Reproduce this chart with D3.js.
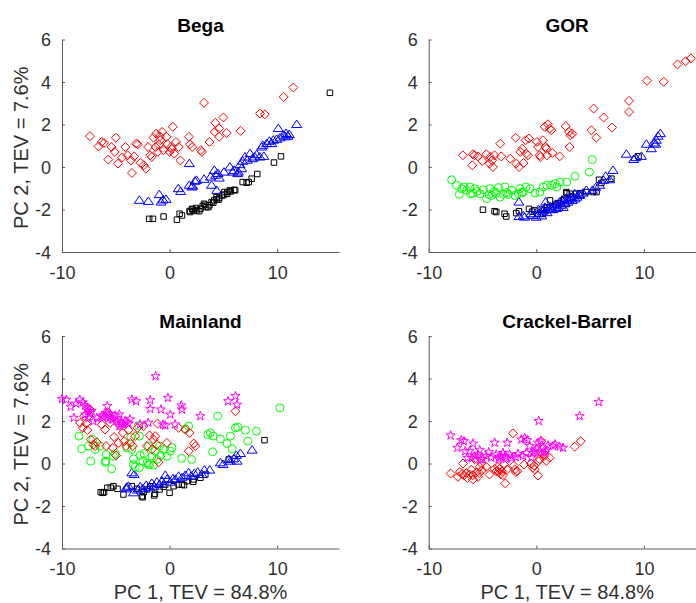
<!DOCTYPE html>
<html>
<head>
<meta charset="utf-8">
<script src="https://cdn.jsdelivr.net/npm/d3@7"></script>
<style>
  body { margin: 0; background: #fff; }
  svg { display: block; }
</style>
</head>
<body>
<svg id="chart" width="696" height="603"></svg>
<script>
const titles = ['Bega', 'GOR', 'Mainland', 'Crackel-Barrel']
const xTicks = [-10, 0, 10]
const yTicks = [-4, -2, 0, 2, 4, 6]
const xLabel = 'PC 1, TEV = 84.8%'
const yLabel = 'PC 2, TEV = 7.6%'

// Bega
const begaDiamond = [[-7.4,1.45],[-6.6,0.97],[-6.3,1.18],[-6.1,1.13],[-5.7,0.35],[-5.4,0.94],[-5.0,1.38],[-5.1,0.71],[-4.8,0.16],[-4.4,0.45],[-4.1,0.94],[-3.9,0.55],[-3.6,0.31],[-3.5,-0.28],[-3.3,0.5],[-3.1,1.1],[-2.95,1.07],[-2.7,0.2],[-2.4,0.08],[-2.2,-0.08],[-2.0,0.94],[-1.8,0.55],[-1.65,0.47],[-1.5,1.38],[-1.3,0.94],[-1.25,1.57],[-1.1,0.71],[-1.0,1.05],[-0.9,1.45],[-0.87,1.26],[-0.7,1.65],[-0.56,0.79],[-0.3,1.42],[-0.2,1.07],[0,0.71],[0.12,0.94],[0.2,0.85],[0.3,1.89],[0.43,0.63],[0.6,1.18],[0.84,0.94],[1.0,0.31],[1.8,1.42],[1.9,1.07],[2.1,0.94],[2.9,0.79],[3.0,0.71],[3.2,3.02],[3.7,1.18],[4.2,1.65],[4.25,2.08],[4.6,1.81],[4.6,1.42],[5.0,2.33],[5.3,1.6],[6.6,1.7],[8.4,2.52],[8.85,2.48],[10.6,3.3],[11.5,3.74]]
const begaTriangle = [[-2.81,-1.57],[-1.98,-1.62],[-0.96,-1.3],[-0.8,-1.65],[-0.6,-1.55],[-0.33,-1.52],[0.81,-1.02],[1.03,-1.15],[1.83,0.16],[1.83,-0.86],[2.08,-0.94],[2.14,-0.9],[2.36,-0.67],[2.5,-0.63],[3.2,-0.58],[3.8,-0.47],[3.9,-0.86],[4.16,-0.16],[4.28,-0.39],[4.38,-1.1],[4.5,-0.31],[4.62,-0.52],[5.06,-0.24],[5.6,0],[5.86,-0.24],[6.0,-0.16],[6.33,-0.31],[6.39,-0.24],[6.54,0.11],[6.7,-0.08],[6.79,0.27],[7.0,0.47],[7.22,0.32],[7.47,0.63],[7.72,0.39],[7.9,0.47],[8.09,0.58],[8.4,0.47],[8.56,0.94],[8.66,1.02],[8.76,0.5],[9.02,1.1],[9.27,1.21],[9.5,1.1],[9.64,1.26],[9.95,1.3],[10.1,1.81],[10.26,1.37],[10.57,1.5],[10.78,1.42],[10.82,1.58],[11.0,1.45],[11.12,1.53],[11.81,2.0]]
const begaSquare = [[-1.9,-2.44],[-1.55,-2.44],[-0.56,-2.33],[0.68,-2.48],[0.93,-2.2],[1.15,-2.28],[1.86,-2.07],[1.9,-2.12],[2.08,-1.97],[2.14,-2.0],[2.24,-2.07],[2.45,-1.93],[2.55,-2.04],[2.76,-2.08],[2.86,-1.97],[3.07,-1.84],[3.2,-1.73],[3.3,-1.78],[3.4,-1.89],[3.6,-1.89],[3.7,-1.8],[3.9,-1.65],[4.06,-1.68],[4.15,-1.57],[4.35,-1.42],[4.38,-1.52],[4.55,-1.54],[4.62,-1.46],[4.9,-1.34],[5.06,-1.3],[5.1,-1.18],[5.35,-1.26],[5.37,-1.18],[5.6,-1.1],[5.68,-1.15],[6.0,-1.07],[6.09,-1.1],[6.79,-0.71],[7.16,-0.74],[7.36,-0.71],[7.63,-0.55],[8.15,-0.33],[9.7,0.21],[10.35,0.5],[14.9,3.49]]

// GOR
const gorDiamond = [[-6.82,0.55],[-5.9,0.6],[-5.74,0.55],[-5.95,0.08],[-5.43,0.5],[-5.02,0.28],[-4.65,0.6],[-4.34,0.16],[-4.28,0.47],[-4.1,0.31],[-4.03,0],[-3.88,0.55],[-3.35,1.1],[-3.26,0.5],[-2.42,0.39],[-1.92,1.38],[-1.86,0.16],[-1.61,0],[-1.49,0.71],[-1.3,0.86],[-1.18,0.19],[-0.99,1.26],[-0.93,0.63],[-0.78,0.55],[-0.68,1.34],[0.06,1.18],[0.16,0.94],[0.31,0.55],[0.37,0.47],[0.62,1.26],[0.78,1.89],[0.87,0.94],[0.93,0.86],[0.99,0.55],[1.09,2.01],[1.24,1.81],[1.4,1.73],[1.49,0.66],[2.17,0.5],[2.73,1.92],[3.04,1.65],[3.1,0.94],[3.16,1.49],[3.35,1.57],[5.12,1.73],[5.33,2.75],[5.58,1.38],[6.26,2.33],[7.04,1.86],[8.62,3.11],[8.62,2.59],[10.29,4.06],[11.84,4.01],[13.12,4.83],[13.89,4.98],[14.36,5.11]]
const gorCircle = [[-7.86,-0.6],[-7.4,-0.86],[-7.15,-1.29],[-6.93,-1.02],[-6.7,-0.94],[-6.47,-1.1],[-6.16,-0.94],[-6.1,-1.26],[-5.91,-1.23],[-5.7,-1.02],[-5.5,-1.15],[-5.23,-1.26],[-4.92,-1.07],[-4.61,-1.49],[-4.4,-1.3],[-4.3,-1.02],[-4.15,-1.34],[-3.9,-1.15],[-3.75,-1.23],[-3.53,-0.97],[-3.37,-1.42],[-3.07,-1.29],[-2.91,-0.94],[-2.75,-1.2],[-2.6,-1.29],[-2.29,-1.1],[-1.98,-1.34],[-1.67,-1.26],[-1.51,-1.02],[-1.35,-1.2],[-1.21,-1.18],[-0.96,-0.94],[-0.59,-1.02],[-0.12,-1.23],[0.34,-1.18],[0.65,-0.94],[0.97,-0.86],[1.43,-0.86],[1.74,-0.78],[1.9,-0.94],[2.2,-0.71],[2.83,-0.71],[3.6,-0.44],[4.93,-0.24],[5.2,0.35]]
const gorTriangle = [[-1.61,-1.65],[-1.61,-2.33],[-1.2,-2.3],[-1.09,-2.36],[-0.5,-2.2],[-0.31,-2.28],[0,-2.36],[0.2,-2.0],[0.25,-2.2],[0.5,-2.3],[0.62,-2.08],[0.8,-1.9],[0.87,-1.65],[1.0,-2.15],[1.09,-1.97],[1.3,-1.89],[1.4,-2.0],[1.55,-2.01],[1.8,-1.76],[1.9,-1.95],[2.02,-1.89],[2.17,-1.65],[2.3,-1.8],[2.42,-1.57],[2.5,-1.9],[2.64,-1.73],[2.7,-1.7],[2.79,-1.49],[2.95,-1.65],[3.0,-1.55],[3.16,-1.42],[3.3,-1.45],[3.35,-1.57],[3.57,-1.26],[3.6,-1.5],[3.78,-1.42],[4.0,-1.3],[4.03,-1.34],[4.34,-1.23],[4.65,-1.1],[5.21,-1.1],[5.52,-0.97],[5.89,-0.86],[6.26,-0.63],[6.45,-0.44],[6.82,-0.6],[7.13,-0.16],[8.37,0.6],[9.05,0.35],[9.24,0.44],[9.77,0.5],[10.23,1.07],[10.7,0.86],[10.91,1.13],[11.1,1.07],[11.16,1.26],[11.32,1.45],[11.53,1.57]]
const gorSquare = [[-4.96,-2.01],[-3.88,-2.08],[-3.72,-2.12],[-2.95,-2.2],[-2.79,-2.33],[-1.86,-2.17],[-1.61,-2.08],[-0.68,-1.97],[-0.4,-2.1],[-0.16,-2.04],[0.16,-2.2],[0.5,-2.0],[0.62,-2.2],[0.93,-2.04],[1.0,-1.9],[1.27,-1.57],[1.6,-1.85],[1.86,-1.76],[2.0,-1.7],[2.48,-1.57],[2.6,-1.5],[2.79,-1.18],[2.83,-1.23],[3.1,-1.26],[3.4,-1.4],[3.72,-1.26],[4.03,-1.23],[4.65,-1.18],[5.27,-1.18],[5.6,-1.18],[5.83,-0.6],[6.05,-0.75],[6.98,-0.55],[9.5,0.5]]

// Mainland
const mainStar = [[-10.0,3.04],[-9.6,3.0],[-9.2,2.67],[-8.9,2.15],[-8.7,2.82],[-8.35,3.0],[-8.07,2.88],[-7.86,2.73],[-7.86,2.3],[-7.64,2.62],[-7.56,2.47],[-7.55,2.15],[-7.39,2.38],[-7.25,2.47],[-7.08,1.99],[-6.77,2.15],[-6.31,2.23],[-6.16,2.15],[-6.15,2.26],[-5.9,2.38],[-5.79,2.7],[-5.6,2.34],[-5.53,2.19],[-5.38,2.08],[-5.28,2.07],[-5.06,2.26],[-4.92,2.15],[-4.91,1.99],[-4.67,2.31],[-4.66,1.76],[-4.53,1.91],[-4.45,1.87],[-4.29,1.83],[-4.14,2.0],[-3.98,1.94],[-3.82,1.88],[-3.68,2.08],[-3.51,3.01],[-3.11,2.93],[-2.75,1.84],[-1.98,1.92],[-1.8,2.98],[-1.8,2.57],[-1.3,4.11],[-0.81,2.54],[-0.62,1.83],[-0.4,1.79],[-0.16,3.09],[0.06,2.3],[0.5,1.84],[1.09,2.73],[1.15,2.54],[2.86,2.23],[5.43,2.93],[6.12,3.17],[6.27,2.77]]
const mainDiamond = [[-8.32,1.91],[-8.07,1.68],[-7.95,2.23],[-7.76,1.88],[-7.64,1.57],[-7.39,2.54],[-7.33,1.13],[-7.08,0.89],[-6.93,0.82],[-6.77,1.0],[-6.3,1.83],[-6.0,1.6],[-5.9,0.82],[-5.68,2.38],[-5.53,1.91],[-5.28,0.74],[-5.16,1.25],[-4.97,0.38],[-4.75,0.97],[-4.6,1.76],[-4.35,1.44],[-4.22,1.05],[-4.04,0.82],[-3.82,1.57],[-3.66,0.97],[-3.42,0.82],[-3.2,1.29],[-2.98,1.68],[-2.42,1.76],[-2.11,0.82],[-1.86,1.32],[-1.65,0.66],[-1.49,1.13],[-1.34,1.29],[-1.18,0.89],[-1.12,1.88],[-1.02,0.06],[-0.25,0.97],[0.84,1.68],[1.46,1.6],[1.86,1.44],[1.77,0.58],[2.24,0.94],[2.39,0.82],[6.12,2.46]]
const mainCircle = [[-8.42,1.29],[-8.17,0.69],[-7.55,0.82],[-7.33,0.11],[-7.14,1.13],[-6.93,0.66],[-6.46,0.82],[-6.0,0.06],[-5.91,0.11],[-5.9,0.42],[-5.38,-0.25],[-5.22,0.34],[-5.06,0.47],[-3.98,0.74],[-3.6,1.25],[-3.51,0.66],[-3.37,-0.05],[-3.35,0.22],[-3.2,-0.16],[-2.89,1.79],[-2.81,-0.2],[-2.8,1.29],[-2.73,0.38],[-2.48,0.11],[-2.36,0.47],[-2.11,0.03],[-1.98,-0.05],[-1.96,0.82],[-1.86,-0.05],[-1.65,0.34],[-1.49,-0.09],[-1.34,0.58],[-1.18,0.19],[-0.93,0.82],[-0.81,0.38],[-0.56,0.66],[-0.25,0.34],[0.06,0.58],[0.22,0.74],[1.12,0.24],[1.46,1.63],[1.77,1.76],[2.05,0.19],[3.54,1.36],[3.79,1.44],[4.0,0.55],[4.04,1.29],[4.47,2.23],[4.72,1.16],[5.34,0.94],[5.65,1.29],[5.81,0.69],[6.12,1.68],[6.33,1.72],[7.05,1.57],[7.27,1.05],[8.07,1.52],[10.25,2.62]]
const mainTriangle = [[-3.51,-0.44],[-3.29,-0.52],[-4.04,-1.19],[-3.99,-1.12],[-3.82,-1.07],[-3.35,-1.38],[-2.98,-1.25],[-2.73,-1.1],[-2.48,-1.19],[-2.17,-1.03],[-1.86,-1.14],[-1.65,-0.94],[-1.43,-1.07],[-1.18,-0.88],[-0.93,-0.99],[-0.71,-0.83],[-0.4,-0.56],[-0.25,-0.75],[0.06,-0.88],[0.31,-0.72],[0.53,-0.75],[0.84,-0.6],[1.15,-0.67],[1.46,-0.56],[1.77,-0.44],[1.99,-0.6],[2.3,-0.47],[2.61,-0.41],[3.01,-0.52],[3.23,-0.31],[3.73,-0.31],[4.72,0.03],[4.97,-0.05],[5.5,0.19],[5.65,0.11],[5.96,0.22],[6.21,0.38],[6.27,0.11],[6.58,0.47],[7.67,0.63]]
const mainSquare = [[-6.4,-1.35],[-6.22,-1.38],[-6.09,-1.35],[-5.78,-1.14],[-5.47,-1.14],[-5.22,-1.07],[-4.84,-1.19],[-4.29,-1.46],[-3.51,-1.07],[-3.04,-1.19],[-2.58,-1.54],[-2.5,-1.59],[-2.42,-1.35],[-2.11,-1.22],[-1.8,-1.07],[-1.43,-1.5],[-1.36,-1.43],[-0.93,-1.22],[-0.56,-1.1],[-0.4,-0.99],[0.0,-1.38],[0.37,-1.07],[0.84,-0.99],[1.15,-0.99],[1.34,-1.02],[1.61,-0.83],[2.2,-0.86],[2.24,-0.75],[2.86,-0.67],[3.32,-0.52],[5.5,0.19],[8.82,1.1]]

// Crackel-Barrel
const crackStar = [[-7.96,1.32],[-7.34,0.74],[-6.97,1.1],[-6.72,1.05],[-6.6,0.58],[-6.41,0.27],[-6.2,0.58],[-6.0,0.25],[-5.88,0.94],[-5.73,0.35],[-5.42,0.42],[-5.26,0.63],[-5.17,0.2],[-5.0,0.2],[-4.65,0.35],[-4.42,0.53],[-4.18,0.27],[-3.87,0.98],[-3.72,0.42],[-3.5,0.2],[-3.4,0.3],[-3.25,0.35],[-3.1,0.5],[-2.9,0.35],[-2.79,0.22],[-2.7,0.98],[-2.47,0.42],[-2.25,0.27],[-1.9,0.3],[-1.7,0.45],[-1.4,1.13],[-1.24,0.35],[-1.08,1.21],[-0.93,0.5],[-0.84,1.1],[-0.61,0.82],[-0.45,0.27],[-0.3,0.5],[-0.15,0.58],[0.0,0.7],[0.16,0.98],[0.22,2.0],[0.3,0.55],[0.42,1.05],[0.62,0.74],[0.78,0.5],[0.9,0.6],[1.09,0.85],[1.55,0.82],[1.75,0.9],[2.17,0.79],[2.48,0.74],[4.03,2.23],[5.8,2.89]]
const crackDiamond = [[-7.96,-0.47],[-7.28,-0.63],[-7.1,-0.4],[-6.9,-0.5],[-6.81,0],[-6.72,-0.55],[-6.5,-0.45],[-6.41,-0.68],[-6.2,-0.52],[-6.05,-0.3],[-5.9,-0.55],[-5.88,-0.75],[-5.73,0.2],[-5.57,-0.42],[-5.42,-0.63],[-5.3,-0.45],[-5.26,-0.16],[-5.1,0],[-5.05,-0.31],[-4.65,-0.16],[-4.35,-0.52],[-3.87,-0.25],[-3.72,-0.36],[-3.56,-0.16],[-3.5,-0.4],[-3.41,-0.25],[-3.3,-0.5],[-3.19,-0.36],[-3.1,-0.55],[-3.0,-0.05],[-2.88,-0.94],[-2.7,-0.28],[-2.17,1.42],[-2.1,-0.1],[-2.0,-0.28],[-1.9,-0.4],[-1.76,-0.36],[-1.14,-0.05],[-0.5,0.0],[-0.31,-0.2],[-0.2,-0.1],[-0.15,-0.28],[0.16,-0.57],[0.2,0.1],[0.31,0.2],[0.47,1.05],[0.55,0.45],[0.72,0.35],[0.78,0.58],[0.93,0.12],[1.24,0.27],[3.57,0.79],[4.13,1.05]]

const panelSeries = [
  [['square', begaSquare], ['triangle', begaTriangle], ['diamond', begaDiamond]],
  [['square', gorSquare], ['triangle', gorTriangle], ['circle', gorCircle], ['diamond', gorDiamond]],
  [['square', mainSquare], ['triangle', mainTriangle], ['circle', mainCircle], ['diamond', mainDiamond], ['star', mainStar]],
  [['diamond', crackDiamond], ['star', crackStar]]
]

// matlab style markers
const diamondSym = {
  draw(ctx, size) {
    const r = Math.sqrt(size / 2)
    ctx.moveTo(0, -r); ctx.lineTo(r, 0); ctx.lineTo(0, r); ctx.lineTo(-r, 0); ctx.closePath()
  }
}
const triangleSym = {
  draw(ctx, size) {
    const k = Math.sqrt(size) / 5
    ctx.moveTo(0, -4.5 * k); ctx.lineTo(5 * k, 3 * k); ctx.lineTo(-5 * k, 3 * k); ctx.closePath()
  }
}

const markers = {
  square:   { type: d3.symbolSquare, size: 30, color: '#000000' },
  triangle: { type: triangleSym, size: 25, color: '#0000ff' },
  circle:   { type: d3.symbolCircle, size: 50, color: '#00ff00' },
  diamond:  { type: diamondSym, size: 40, color: '#ff0000' },
  star:     { type: d3.symbolStar, size: 26, color: '#ff00ff' }
}

const font = "'Liberation Sans', Arial, Helvetica, sans-serif"
const svg = d3.select('#chart')

const lefts = [62, 428.7]
const tops = [39.5, 336]
const plotW = 277
const plotH = 212.5

titles.forEach((title, i) => {
  const col = i % 2
  const row = Math.floor(i / 2)
  const left = lefts[col]
  const top = tops[row]

  const x = d3.scaleLinear().domain([-10, -10 + plotW / 10.76]).range([left, left + plotW])
  const y = d3.scaleLinear().domain([-4, 6]).range([top + plotH, top])

  const g = svg.append('g')

  // plain hyphen for negatives, like the original
  const fmt = d => String(d)

  const xAxis = g.append('g')
    .attr('transform', `translate(0,${top + plotH})`)
    .call(d3.axisBottom(x).tickValues(xTicks).tickFormat(fmt).tickSizeInner(-3).tickSizeOuter(0).tickPadding(14))
  const yAxis = g.append('g')
    .attr('transform', `translate(${left},0)`)
    .call(d3.axisLeft(y).tickValues(yTicks).tickFormat(fmt).tickSizeInner(-3).tickSizeOuter(0).tickPadding(11))

  ;[xAxis, yAxis].forEach(ax => {
    ax.attr('font-family', font).attr('font-size', 18)
    ax.selectAll('.domain, .tick line').attr('stroke', '#5a5a5a').attr('stroke-width', 1)
    ax.selectAll('text').attr('fill', '#303030')
  })
  yAxis.selectAll('text').attr('dy', '0.36em')

  g.append('text')
    .attr('x', left + plotW / 2)
    .attr('y', top - 8)
    .attr('text-anchor', 'middle')
    .attr('font-family', font)
    .attr('font-size', 19)
    .attr('font-weight', 'bold')
    .attr('fill', '#000')
    .text(title)

  if (row === 1) {
    g.append('text')
      .attr('x', left + plotW / 2)
      .attr('y', 599)
      .attr('text-anchor', 'middle')
      .attr('font-family', font)
      .attr('font-size', 20)
      .attr('fill', '#303030')
      .text(xLabel)
  }
  if (col === 0) {
    g.append('text')
      .attr('transform', `translate(28,${top + plotH / 2 + 2}) rotate(-90)`)
      .attr('text-anchor', 'middle')
      .attr('font-family', font)
      .attr('font-size', 20)
      .attr('fill', '#303030')
      .text(yLabel)
  }

  panelSeries[i].forEach(([kind, pts]) => {
    const m = markers[kind]
    const sym = d3.symbol().type(m.type).size(m.size)
    g.append('g')
      .selectAll('path')
      .data(pts)
      .enter()
      .append('path')
      .attr('d', sym)
      .attr('transform', d => `translate(${x(d[0])},${y(d[1])})`)
      .attr('fill', 'none')
      .attr('stroke', m.color)
      .attr('stroke-width', 1)
  })
})
</script>
</body>
</html>
